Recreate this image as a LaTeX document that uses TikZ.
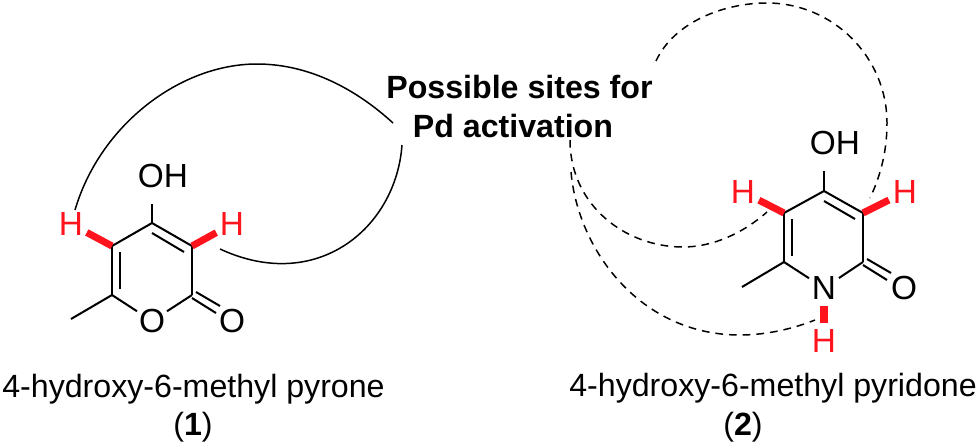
\documentclass[tikz,border=0pt]{standalone}
\usepackage{fontspec}
\setmainfont{Liberation Sans}
\definecolor{siteRed}{RGB}{255,20,30}
\tikzset{
  atom/.style={circle,inner sep=0pt,minimum size=20pt,font=\fontsize{19}{19}\selectfont},
  siteH/.style={atom,text=siteRed},
  caption/.style={anchor=base,inner sep=0pt,font=\fontsize{18.3}{21}\selectfont},
  sitetext/.style={caption,font=\fontsize{18.3}{21}\selectfont\bfseries},
  sitebond/.style={draw=siteRed,line width=4pt},
  arcline/.style={draw=black,line width=0.85pt},
  arcdash/.style={arcline,dash pattern=on 4.4pt off 3.4pt}
}
\begin{document}
\begin{tikzpicture}[x=0.02cm,y=-0.02cm]
\useasboundingbox (0,0) rectangle (980,443);
\coordinate (a3) at (192,246);
\coordinate (a4) at (152,223);
\coordinate (a5) at (112,246);
\coordinate (a6) at (112,295);
\coordinate (a2) at (192,295);
\coordinate (aMe) at (71,319);
\coordinate (b3) at (863,213);
\coordinate (b4) at (824,191);
\coordinate (b5) at (784,213);
\coordinate (b6) at (784,262);
\coordinate (b2) at (863,262);
\coordinate (bMe) at (742,287);
\coordinate (aStartL) at (75,210);
\coordinate (aTop) at (257,64);
\coordinate (aEndL) at (393,123);
\coordinate (aStartR) at (402,145);
\coordinate (aEndR) at (220,249);
\coordinate (bStartR) at (656,61);
\coordinate (bTop) at (767,3);
\coordinate (bSide) at (887,123);
\coordinate (bEndR) at (870,198);
\coordinate (bStartL) at (570,140);
\coordinate (bLow) at (683,247);
\coordinate (bEndL) at (767,212);
\coordinate (bStartN) at (571,172);
\coordinate (bBot) at (740,335);
\coordinate (bEndN) at (815,320);
\node[atom] (a1) at (152,321) {O};
\node[atom] (aOxo) at (232,321) {O};
\node[atom] (aOH) at (163,176) {OH};
\node[siteH] (aHL) at (71,224) {H};
\node[siteH] (aHR) at (232,224) {H};
\node[atom] (b1) at (824,288) {N};
\node[atom] (bOxo) at (904,288) {O};
\node[atom] (bOH) at (835,143) {OH};
\node[siteH] (bHL) at (743,192) {H};
\node[siteH] (bHR) at (905,192) {H};
\node[siteH] (bHN) at (824,341) {H};
\node[sitetext] (sitesA) at (519.5,98) {Possible sites for};
\node[sitetext] (sitesB) at (513,137) {Pd activation};
\node[caption] (capA) at (193.5,397) {4-hydroxy-6-methyl pyrone};
\node[caption] (numA) at (193,435) {(\textbf{1})};
\node[caption] (capB) at (773,396) {4-hydroxy-6-methyl pyridone};
\node[caption] (numB) at (743,435) {(\textbf{2})};
\begin{scope}[every edge/.style={draw=black,line width=1.15pt}]
    \path (a4) edge (a3);
    \path (a3) edge (a2);
    \path (a2) edge (a1);
    \path (a1) edge (a6);
    \path (a6) edge (a5);
    \path (a5) edge (a4);
    \path (a6) edge (aMe);
    \path (a4) edge (a4 |- aOH.south);
    \path ([shift={(0,10)}]a4) edge ([shift={(-8,6)}]a3);
    \path ([shift={(8,6)}]a5) edge ([shift={(8,-6)}]a6);
    \path ([shift={(4,-3)}]a2) edge ([shift={(28,11)}]a2);
    \path ([shift={(0,3)}]a2) edge ([shift={(24,18)}]a2);
    \path (b4) edge (b3);
    \path (b3) edge (b2);
    \path (b2) edge (b1);
    \path (b1) edge (b6);
    \path (b6) edge (b5);
    \path (b5) edge (b4);
    \path (b6) edge (bMe);
    \path (b4) edge (b4 |- bOH.south);
    \path ([shift={(0,10)}]b4) edge ([shift={(-8,6)}]b3);
    \path ([shift={(8,6)}]b5) edge ([shift={(8,-6)}]b6);
    \path ([shift={(4,-3)}]b2) edge ([shift={(28,11)}]b2);
    \path ([shift={(0,3)}]b2) edge ([shift={(24,18)}]b2);
\end{scope}
\begin{scope}[every edge/.style={sitebond}]
    \path (a5) edge (aHL);
    \path (a3) edge (aHR);
    \path (b5) edge (bHL);
    \path (b3) edge (bHR);
    \path (b1) edge (bHN);
\end{scope}
\draw[arcline] (aStartL) .. controls (100,125) and (180,64) .. (aTop)
    .. controls (310,64) and (357,90) .. (aEndL);
\draw[arcline] (aStartR) .. controls (396,228) and (317,294) .. (aEndR);
\draw[arcdash] (bStartR) .. controls (674,22) and (724,3) .. (bTop)
    .. controls (833,3) and (887,57) .. (bSide)
    .. controls (887,150) and (881,175) .. (bEndR);
\draw[arcdash] (bStartL) .. controls (570,205) and (625,247) .. (bLow)
    .. controls (712,247) and (742,234) .. (bEndL);
\draw[arcdash] (bStartN) .. controls (578,250) and (640,335) .. (bBot)
    .. controls (768,335) and (795,328) .. (bEndN);
\end{tikzpicture}
\end{document}
